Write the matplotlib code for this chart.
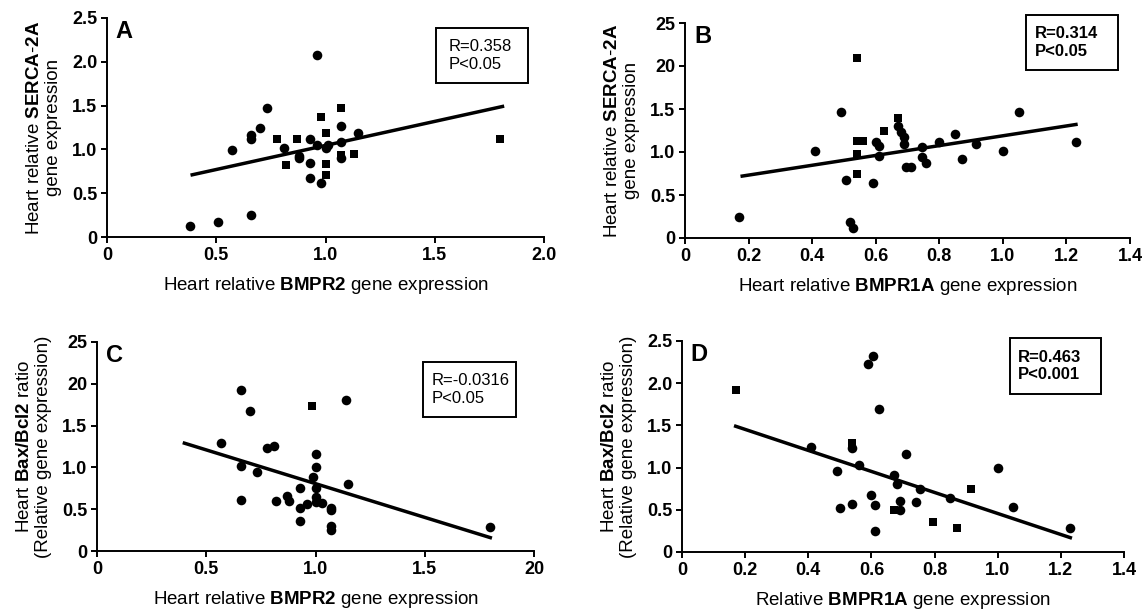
import matplotlib.pyplot as plt
from matplotlib.patches import Rectangle

plt.rcParams['font.family'] = 'Liberation Sans'
plt.rcParams['mathtext.fontset'] = 'custom'
plt.rcParams['mathtext.rm'] = 'Liberation Sans'
plt.rcParams['mathtext.bf'] = 'Liberation Sans:bold'

# ---- data ----
# group 0 = circles, group 1 = squares
a_x = [0.38, 0.51, 0.66, 0.57, 0.73, 0.70, 0.66, 0.66, 0.78, 0.81, 0.82, 0.87, 0.88, 0.88,
       0.93, 0.93, 0.93, 0.96, 0.98, 0.98, 0.96, 1.00, 1.00, 1.01, 1.00, 1.00, 1.07, 1.07,
       1.07, 1.07, 1.07, 1.13, 1.15, 1.80]
a_y = [0.12, 0.17, 0.25, 0.99, 1.47, 1.24, 1.17, 1.12, 1.12, 1.02, 0.82, 1.12, 0.93, 0.90,
       1.12, 0.85, 0.67, 2.08, 0.62, 1.37, 1.05, 1.19, 1.02, 1.05, 0.83, 0.71, 1.47, 1.27,
       1.08, 0.94, 0.90, 0.95, 1.19, 1.12]
a_grp = [0, 0, 0, 0, 0, 0, 0, 0, 1, 0, 1, 1, 0, 0,
         0, 0, 0, 0, 0, 1, 0, 1, 0, 0, 1, 1, 1, 0,
         0, 1, 0, 1, 0, 1]
a_fit_x = [0.39, 1.81]
a_fit_y = [0.71, 1.49]

b_x = [0.17, 0.41, 0.49, 0.505, 0.52, 0.53, 0.54, 0.54, 0.56, 0.54, 0.54, 0.59, 0.60,
       0.61, 0.61, 0.625, 0.67, 0.67, 0.68, 0.69, 0.69, 0.695, 0.71, 0.747, 0.747, 0.757,
       0.80, 0.85, 0.87, 0.915, 1.00, 1.05, 1.23]
b_y = [0.25, 1.01, 1.47, 0.68, 0.19, 0.12, 2.09, 1.13, 1.13, 0.98, 0.74, 0.64, 1.12,
       1.07, 0.95, 1.24, 1.39, 1.30, 1.23, 1.17, 1.09, 0.83, 0.83, 1.06, 0.94, 0.87,
       1.12, 1.21, 0.92, 1.09, 1.01, 1.47, 1.12]
b_grp = [0, 0, 0, 0, 0, 0, 1, 1, 1, 1, 1, 0, 0,
         0, 0, 1, 1, 0, 0, 0, 0, 0, 0, 0, 0, 0,
         0, 0, 0, 0, 0, 0, 0]
b_fit_x = [0.18, 1.23]
b_fit_y = [0.72, 1.32]

c_x = [0.566, 0.66, 0.70, 0.66, 0.73, 0.66, 0.78, 0.81, 0.82, 0.87, 0.88, 0.93, 0.93,
       0.93, 0.96, 0.985, 1.00, 1.00, 0.99, 1.00, 1.00, 1.00, 1.03, 1.07, 1.07, 1.07,
       1.07, 1.14, 1.15, 1.80]
c_y = [1.29, 1.92, 1.68, 1.02, 0.95, 0.61, 1.23, 1.26, 0.60, 0.66, 0.60, 0.75, 0.52,
       0.36, 0.56, 1.73, 1.16, 1.01, 0.88, 0.75, 0.64, 0.59, 0.58, 0.52, 0.49, 0.30,
       0.25, 1.81, 0.80, 0.29]
c_grp = [0] * 15 + [1] + [0] * 14
c_fit_x = [0.40, 1.80]
c_fit_y = [1.29, 0.16]

d_x = [0.17, 0.41, 0.49, 0.50, 0.54, 0.54, 0.54, 0.56, 0.59, 0.605, 0.60, 0.61, 0.61,
       0.625, 0.67, 0.68, 0.67, 0.69, 0.69, 0.71, 0.74, 0.755, 0.795, 0.85, 0.87, 0.915,
       1.00, 1.05, 1.23]
d_y = [1.92, 1.25, 0.96, 0.52, 1.29, 1.23, 0.57, 1.03, 2.23, 2.32, 0.67, 0.56, 0.25,
       1.69, 0.91, 0.81, 0.50, 0.50, 0.60, 1.16, 0.59, 0.75, 0.35, 0.64, 0.29, 0.75,
       1.00, 0.53, 0.29]
d_grp = [1, 0, 0, 0, 1, 0, 0, 0, 0, 0, 0, 0, 0,
         0, 0, 0, 1, 0, 0, 0, 0, 0, 1, 0, 1, 1,
         0, 0, 0]
d_fit_x = [0.17, 1.23]
d_fit_y = [1.49, 0.17]

y_ticks = [0, 0.5, 1.0, 1.5, 2.0, 2.5]
y_labels_ok = ['0', '0.5', '1.0', '1.5', '2.0', '2.5']
y_labels_typo = ['0', '0.5', '1.0', '1.5', '20', '25']
x2_ticks = [0, 0.5, 1.0, 1.5, 2.0]
x2_labels_a = ['0', '0.5', '1.0', '1.5', '2.0']
x2_labels_c = ['0', '0.5', '1.0', '1.5', '20']
x14_ticks = [0, 0.2, 0.4, 0.6, 0.8, 1.0, 1.2, 1.4]
x14_labels = ['0', '0.2', '0.4', '0.6', '0.8', '1.0', '1.2', '1.4']

stats = ['R=0.358\nP<0.05', 'R=0.314\nP<0.05', 'R=-0.0316\nP<0.05', 'R=0.463\nP<0.001']

W, H = 1145, 613
fig = plt.figure(figsize=(W / 100, H / 100), dpi=100)


def px(l, r, t, b):
    return [l / W, 1 - b / H, (r - l) / W, (b - t) / H]


def panel(rect, x, y, grp, fx, fy, xmax, xt, xl, yl, letter, xlabel, ylabel, box, txt_x, txt, bold):
    ax = fig.add_axes(px(*rect))
    cx = [v for v, g in zip(x, grp) if g == 0]
    cy = [v for v, g in zip(y, grp) if g == 0]
    sx = [v for v, g in zip(x, grp) if g == 1]
    sy = [v for v, g in zip(y, grp) if g == 1]
    ax.scatter(cx, cy, s=48, marker='o', color='black', linewidths=0, zorder=3)
    ax.scatter(sx, sy, s=38, marker='s', color='black', linewidths=0, zorder=3)
    ax.plot(fx, fy, color='black', lw=2.5, zorder=2)
    ax.set_xlim(0, xmax)
    ax.set_ylim(0, 2.5)
    ax.set_xticks(xt)
    ax.set_xticklabels(xl)
    ax.set_yticks(y_ticks)
    ax.set_yticklabels(yl)
    for s in ['top', 'right']:
        ax.spines[s].set_visible(False)
    for s in ['left', 'bottom']:
        ax.spines[s].set_linewidth(1.4)
    ax.tick_params(direction='out', length=4, width=1.4, labelsize=13, pad=3)
    for lab in ax.get_xticklabels() + ax.get_yticklabels():
        lab.set_fontweight('bold')
    ax.set_xlabel(xlabel, fontsize=13.5, labelpad=8)
    ax.set_ylabel(ylabel, fontsize=13.5, labelpad=7, linespacing=1.15)
    ax.text(0.02, 0.99, letter, transform=ax.transAxes, fontsize=17,
            fontweight='bold', va='top', ha='left')
    l, r, t, b = box
    fig.add_artist(Rectangle((l / W, 1 - b / H), (r - l) / W, (b - t) / H,
                             transform=fig.transFigure, fill=False,
                             edgecolor='black', linewidth=1.4))
    fig.text(txt_x / W, 1 - (t + b) / 2 / H, txt, fontsize=12,
             fontweight='bold' if bold else 'normal',
             ha='left', va='center', linespacing=1.2)
    return ax


panel((107, 544, 18, 237), a_x, a_y, a_grp, a_fit_x, a_fit_y, 2.0, x2_ticks, x2_labels_a,
      y_labels_ok, 'A', r'Heart relative $\mathbf{BMPR2}$ gene expression',
      'Heart relative $\\mathbf{SERCA}$-$\\mathbf{2A}$\ngene expression',
      (436, 528, 28, 83), 449, stats[0], False)
panel((685, 1130, 23, 238), b_x, b_y, b_grp, b_fit_x, b_fit_y, 1.4, x14_ticks, x14_labels,
      y_labels_typo, 'B', r'Heart relative $\mathbf{BMPR1A}$ gene expression',
      'Heart relative $\\mathbf{SERCA}$-$\\mathbf{2A}$\ngene expression',
      (1026, 1118, 15, 70), 1035, stats[1], True)
panel((97, 534, 342, 551), c_x, c_y, c_grp, c_fit_x, c_fit_y, 2.0, x2_ticks, x2_labels_c,
      y_labels_typo, 'C', r'Heart relative $\mathbf{BMPR2}$ gene expression',
      'Heart $\\mathbf{Bax/Bcl2}$ ratio\n(Relative gene expression)',
      (423, 516, 362, 417), 432, stats[2], False)
panel((682, 1124, 341, 552), d_x, d_y, d_grp, d_fit_x, d_fit_y, 1.4, x14_ticks, x14_labels,
      y_labels_ok, 'D', r'Relative $\mathbf{BMPR1A}$ gene expression',
      'Heart $\\mathbf{Bax/Bcl2}$ ratio\n(Relative gene expression)',
      (1010, 1101, 338, 394), 1018, stats[3], True)

fig.savefig('out.png', dpi=100)
